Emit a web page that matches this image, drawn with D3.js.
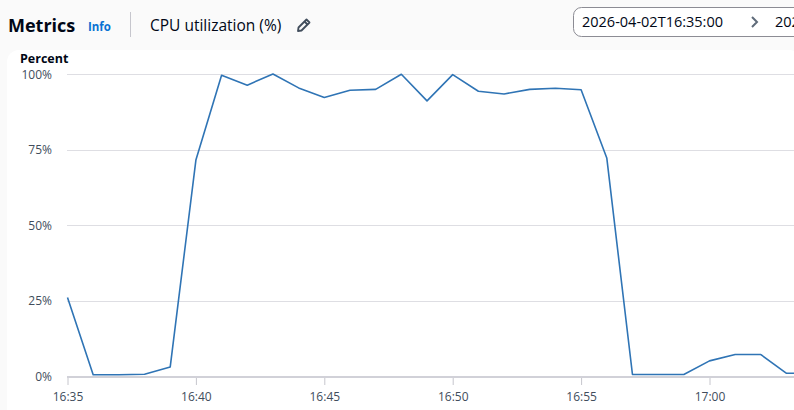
<!DOCTYPE html>
<html>
<head>
<meta charset="utf-8">
<script src="https://cdn.jsdelivr.net/npm/d3@7"></script>
<style>
  html, body { margin: 0; padding: 0; background: #fafafa; }
  svg { display: block; font-family: "Open Sans", "Noto Sans", sans-serif; }
</style>
</head>
<body>
<svg id="chart" width="794" height="410"></svg>
<script>
// minute timestamps, starting 16:35
var startTime = "2026-04-02T16:35:00"
var minutes = d3.range(0, 30)
var cpuValues = [26, 0.4, 0.4, 0.6, 3.0, 71.5, 99.6, 96.3, 100, 95.4,
                 92.2, 94.6, 94.9, 99.9, 91.1, 99.8, 94.3, 93.4, 94.9, 95.3,
                 94.8, 72.2, 0.5, 0.5, 0.5, 5.0, 7.1, 7.1, 0.9, 0.9]
var yTicks = [0, 25, 50, 75, 100]
var xTickLabels = ["16:35", "16:40", "16:45", "16:50", "16:55", "17:00"]

var svg = d3.select("#chart")
var width = 794, height = 410

var t0 = new Date(2026, 3, 2, 16, 35)
var data = minutes.map(function(m, i) {
    return { time: d3.timeMinute.offset(t0, m), value: cpuValues[i] }
})

// white card
svg.append("rect")
    .attr("x", 7).attr("y", 50)
    .attr("width", width).attr("height", height)
    .attr("rx", 12)
    .attr("fill", "#ffffff")

// header
svg.append("text")
    .attr("x", 8).attr("y", 32)
    .attr("font-size", 18).attr("font-weight", 700)
    .attr("fill", "#000716")
    .text("Metrics")
svg.append("text")
    .attr("x", 88).attr("y", 31)
    .attr("font-size", 11.5).attr("font-weight", 700)
    .attr("fill", "#0972d3")
    .text("Info")
svg.append("line")
    .attr("x1", 130.5).attr("x2", 130.5)
    .attr("y1", 12).attr("y2", 37)
    .attr("stroke", "#c6c6cd")
svg.append("text")
    .attr("x", 150).attr("y", 31)
    .attr("font-size", 15.5)
    .attr("fill", "#000716")
    .text("CPU utilization (%)")

// pencil icon
var pencil = svg.append("g")
    .attr("transform", "translate(297,18)")
    .attr("fill", "none").attr("stroke", "#414d5c")
    .attr("stroke-width", 1.8).attr("stroke-linejoin", "round")
pencil.append("path").attr("d", "M1 13 L1.5 9.5 L9.5 1.5 L12.5 4.5 L4.5 12.5 Z")
pencil.append("path").attr("d", "M7.5 3.5 L10.5 6.5")

// date range box
svg.append("rect")
    .attr("x", 573.5).attr("y", 7.5)
    .attr("width", 260).attr("height", 29)
    .attr("rx", 8)
    .attr("fill", "#ffffff").attr("stroke", "#8c8c94")
svg.append("text")
    .attr("x", 582).attr("y", 27)
    .attr("font-size", 14.5).attr("fill", "#000716")
    .text(startTime)
svg.append("path")
    .attr("d", "M752 17 L757 22 L752 27")
    .attr("fill", "none").attr("stroke", "#5f6b7a").attr("stroke-width", 2)
svg.append("text")
    .attr("x", 775).attr("y", 27)
    .attr("font-size", 14.5).attr("fill", "#000716")
    .text(startTime)

// axis title
svg.append("text")
    .attr("x", 20).attr("y", 63)
    .attr("font-size", 12.5).attr("font-weight", 700)
    .attr("fill", "#000716")
    .text("Percent")

var x = d3.scaleTime()
    .domain([t0, d3.timeMinute.offset(t0, 25)])
    .range([67.5, 709.5])
var y = d3.scaleLinear()
    .domain([0, 100])
    .range([376, 74])

// gridlines
svg.append("g").selectAll("line")
    .data(yTicks.filter(function(d) { return d > 0 }))
    .enter().append("line")
    .attr("x1", 67).attr("x2", width)
    .attr("y1", function(d) { return Math.round(y(d)) + 0.5 })
    .attr("y2", function(d) { return Math.round(y(d)) + 0.5 })
    .attr("stroke", "#dedee3")

// y labels
svg.append("g").selectAll("text")
    .data(yTicks)
    .enter().append("text")
    .attr("x", 52)
    .attr("y", function(d) { return y(d) + 4.5 })
    .attr("text-anchor", "end")
    .attr("font-size", 12).attr("fill", "#414d5c")
    .text(function(d) { return d + "%" })

// x axis
var xAxis = d3.axisBottom(x)
    .ticks(d3.timeMinute.every(5))
    .tickSize(9)
    .tickFormat(function(d, i) { return xTickLabels[i] })
var gx = svg.append("g")
    .attr("transform", "translate(0,376)")
    .call(xAxis)
gx.select(".domain").remove()
gx.selectAll(".tick line").attr("stroke", "#c6c6cd")
gx.selectAll(".tick text")
    .attr("dy", 0).attr("y", 25)
    .attr("font-size", 12).attr("fill", "#414d5c")
    .attr("font-family", "\"Open Sans\", \"Noto Sans\", sans-serif")
svg.append("line")
    .attr("x1", 67).attr("x2", width)
    .attr("y1", 377).attr("y2", 377)
    .attr("stroke", "#d1d1d8").attr("stroke-width", 2)

// line
var line = d3.line()
    .x(function(d) { return x(d.time) })
    .y(function(d) { return y(d.value) })
svg.append("path")
    .datum(data)
    .attr("d", line)
    .attr("fill", "none")
    .attr("stroke", "#2f74b5")
    .attr("stroke-width", 1.6)
    .attr("stroke-linejoin", "round")
</script>
</body>
</html>
